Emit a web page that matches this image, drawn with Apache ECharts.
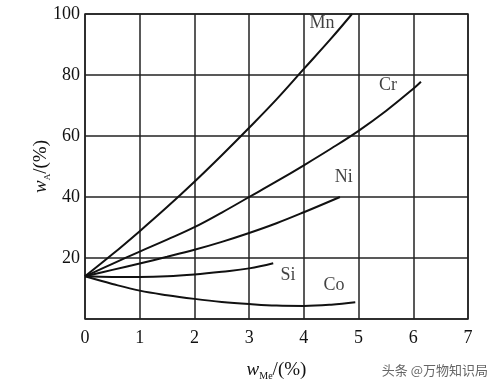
<!DOCTYPE html>
<html>
<head>
<meta charset="utf-8">
<script src="https://cdn.jsdelivr.net/npm/echarts@6/dist/echarts.min.js"></script>
<style>html,body{margin:0;padding:0;background:#fff;}#c{width:500px;height:388px;}</style>
</head>
<body>
<div id="c"></div>
<script>
var xTicks = [0, 1, 2, 3, 4, 5, 6, 7];
var yTicks = [20, 40, 60, 80, 100];
var mn = [[0,14],[0.5,21.2],[1,28.8],[1.5,36.7],[2,45],[2.5,53.7],[3,62.7],[3.5,72],[4,82],[4.5,92],[4.88,100]];
var cr = [[0,14],[0.5,18.1],[1,22.1],[1.5,26],[2,30.1],[2.5,34.9],[3,40],[3.5,45.1],[4,50.4],[4.5,55.9],[5,61.7],[5.5,68.2],[6,75.5],[6.14,77.8]];
var ni = [[0,14],[0.5,16.1],[1,18.2],[1.5,20.4],[2,22.7],[2.5,25.3],[3,28.2],[3.5,31.4],[4,35],[4.66,40]];
var si = [[0,14],[0.5,13.8],[1,13.8],[1.5,14],[2,14.6],[2.5,15.5],[3,16.6],[3.44,18.3]];
var co = [[0,14],[0.5,11.5],[1,9.3],[1.5,7.8],[2,6.6],[2.5,5.6],[3,4.9],[3.5,4.4],[4,4.3],[4.5,4.7],[4.94,5.5]];
var curveNames = ['Mn', 'Cr', 'Ni', 'Si', 'Co'];
var nameAnchors = [[4.33,97],[5.54,76.6],[4.73,46.5],[3.71,14.5],[4.55,10.9]];

var serif = 'Liberation Serif';
var chart = echarts.init(document.getElementById('c'));
var curves = [mn, cr, ni, si, co];
var series = curves.map(function (d, i) {
  return {
    name: curveNames[i], type: 'line', data: d, smooth: 0.4, showSymbol: false,
    lineStyle: { color: '#111', width: 2 }, silent: true, z: 3
  };
});
series.push({
  type: 'scatter', symbolSize: 0, silent: true, z: 4,
  data: nameAnchors.map(function (p, i) { return { value: p, name: curveNames[i] }; }),
  label: { show: true, position: 'inside', formatter: '{b}', color: '#111', fontFamily: serif, fontSize: 18 }
});
chart.setOption({
  animation: false,
  backgroundColor: '#fff',
  grid: { left: 85, right: 32, top: 14, bottom: 69, show: true, borderColor: '#222', borderWidth: 1.5, backgroundColor: 'transparent' },
  xAxis: {
    type: 'value', min: 0, max: 7, interval: 1,
    axisLine: { show: false }, axisTick: { show: false },
    splitLine: { show: true, lineStyle: { color: '#222', width: 1.5 } },
    axisLabel: { color: '#111', fontFamily: serif, fontSize: 18, margin: 10,
      formatter: function (v) { return xTicks.indexOf(v) >= 0 ? String(v) : ''; } },
    name: '{w|w}{sub|Me}{n|/(%)}', nameLocation: 'middle', nameGap: 40,
    nameTextStyle: { rich: {
      w: { fontFamily: serif, fontStyle: 'italic', fontSize: 19, color: '#111', lineHeight: 22 },
      sub: { fontFamily: serif, fontSize: 10, color: '#111', verticalAlign: 'bottom', lineHeight: 18 },
      n: { fontFamily: serif, fontSize: 19, color: '#111', lineHeight: 22 } } }
  },
  yAxis: {
    type: 'value', min: 0, max: 100, interval: 20,
    axisLine: { show: false }, axisTick: { show: false },
    splitLine: { show: true, lineStyle: { color: '#222', width: 1.5 } },
    axisLabel: { color: '#111', fontFamily: serif, fontSize: 18, margin: 5,
      formatter: function (v) { return yTicks.indexOf(v) >= 0 ? String(v) : ''; } },
    name: '{w|w}{sub|A}{n|/(%)}', nameLocation: 'middle', nameGap: 33, nameMoveOverlap: false,
    nameTextStyle: { rich: {
      w: { fontFamily: serif, fontStyle: 'italic', fontSize: 19, color: '#111', lineHeight: 22 },
      sub: { fontFamily: serif, fontSize: 9, color: '#111', verticalAlign: 'bottom', lineHeight: 18 },
      n: { fontFamily: serif, fontSize: 19, color: '#111', lineHeight: 22 } } }
  },
  graphic: [{
    type: 'text', right: 12, top: 364,
    style: { text: '头条 @万物知识局', fill: '#666', font: '13px "Noto Sans CJK SC"' }
  }],
  series: series
});
</script>
</body>
</html>
